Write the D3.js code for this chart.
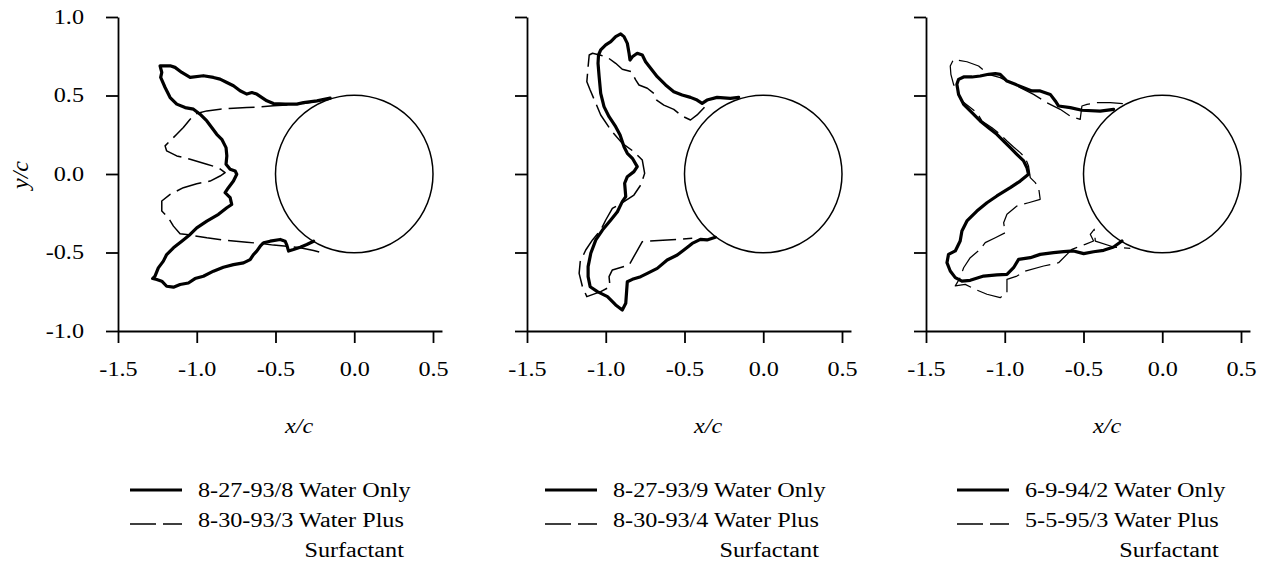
<!DOCTYPE html>
<html>
<head>
<meta charset="utf-8">
<script src="https://cdn.jsdelivr.net/npm/d3@7"></script>
<style>
  body { margin: 0; background: #fff; }
  text { font-family: "Liberation Serif", "Times New Roman", serif; fill: #000; }
</style>
</head>
<body>
<svg id="chart" width="1264" height="567"></svg>
<script>
// Axis ticks (x/c and y/c, chord-normalised)
const xTicks = [-1.5, -1.0, -0.5, 0.0, 0.5];
const yTicks = [-1.0, -0.5, 0.0, 0.5, 1.0];
const cylinderRadius = 0.5;

// Ice shape tracings, [x/c, y/c]
const waterOnly_82793_8 = [
  [-0.153,0.483],[-0.237,0.466],[-0.322,0.455],[-0.364,0.445],[-0.439,0.445],[-0.513,0.449],[-0.555,0.466],
  [-0.619,0.509],[-0.650,0.519],[-0.682,0.509],[-0.725,0.530],[-0.767,0.562],[-0.809,0.583],[-0.852,0.604],
  [-0.894,0.615],[-0.958,0.626],[-1.042,0.615],[-1.095,0.647],[-1.138,0.679],[-1.169,0.689],[-1.201,0.689],
  [-1.233,0.689],[-1.222,0.647],[-1.229,0.615],[-1.201,0.551],[-1.169,0.487],[-1.127,0.445],[-1.074,0.423],
  [-1.021,0.413],[-0.979,0.381],[-0.936,0.338],[-0.905,0.296],[-0.873,0.253],[-0.841,0.221],[-0.814,0.168],
  [-0.809,0.115],[-0.814,0.062],[-0.788,0.030],[-0.756,0.019],[-0.746,-0.002],[-0.767,-0.045],[-0.799,-0.087],
  [-0.820,-0.119],[-0.788,-0.151],[-0.778,-0.194],[-0.809,-0.215],[-0.862,-0.257],[-0.936,-0.300],[-1.000,-0.343],
  [-1.042,-0.385],[-1.095,-0.428],[-1.148,-0.470],[-1.191,-0.513],[-1.212,-0.555],[-1.244,-0.598],[-1.265,-0.651],
  [-1.280,-0.666],[-1.254,-0.672],[-1.222,-0.683],[-1.191,-0.715],[-1.148,-0.721],[-1.106,-0.704],[-1.053,-0.694],
  [-1.011,-0.666],[-0.958,-0.651],[-0.894,-0.619],[-0.831,-0.594],[-0.767,-0.577],[-0.703,-0.566],[-0.661,-0.545],
  [-0.640,-0.513],[-0.619,-0.491],[-0.597,-0.460],[-0.576,-0.438],[-0.534,-0.428],[-0.470,-0.417],[-0.439,-0.428],
  [-0.428,-0.453],[-0.417,-0.491],[-0.386,-0.481],[-0.343,-0.466],[-0.301,-0.449],[-0.258,-0.428]
];
const surfactant_83093_3 = [
  [-0.216,0.466],[-0.322,0.449],[-0.428,0.440],[-0.513,0.434],[-0.597,0.428],[-0.682,0.423],[-0.767,0.419],
  [-0.852,0.413],[-0.936,0.402],[-1.000,0.385],[-1.042,0.349],[-1.085,0.296],[-1.127,0.253],[-1.159,0.221],
  [-1.201,0.179],[-1.191,0.147],[-1.127,0.115],[-1.042,0.094],[-0.936,0.062],[-0.862,0.040],[-0.820,0.009],
  [-0.852,-0.013],[-0.915,-0.045],[-1.000,-0.062],[-1.085,-0.087],[-1.169,-0.130],[-1.222,-0.172],[-1.222,-0.236],
  [-1.180,-0.279],[-1.148,-0.332],[-1.106,-0.381],[-1.042,-0.389],[-0.936,-0.406],[-0.809,-0.423],[-0.682,-0.434],
  [-0.576,-0.445],[-0.513,-0.453],[-0.428,-0.460],[-0.343,-0.470],[-0.258,-0.487],[-0.206,-0.502]
];
const waterOnly_82793_9 = [
  [-0.156,0.488],[-0.209,0.482],[-0.293,0.488],[-0.357,0.471],[-0.388,0.450],[-0.420,0.471],[-0.462,0.488],
  [-0.515,0.503],[-0.568,0.524],[-0.620,0.567],[-0.673,0.620],[-0.715,0.673],[-0.747,0.715],[-0.768,0.758],
  [-0.800,0.769],[-0.831,0.747],[-0.846,0.726],[-0.852,0.769],[-0.863,0.832],[-0.884,0.875],[-0.905,0.892],
  [-0.937,0.875],[-0.968,0.843],[-1.000,0.822],[-1.032,0.790],[-1.046,0.758],[-1.049,0.705],[-1.042,0.620],
  [-1.032,0.514],[-1.011,0.429],[-0.979,0.365],[-0.937,0.301],[-0.909,0.248],[-0.884,0.174],[-0.863,0.132],
  [-0.831,0.100],[-0.800,0.047],[-0.821,0.015],[-0.863,-0.017],[-0.880,-0.059],[-0.873,-0.144],[-0.895,-0.176],
  [-0.926,-0.240],[-0.968,-0.293],[-1.021,-0.357],[-1.063,-0.420],[-1.095,-0.505],[-1.112,-0.590],[-1.112,-0.654],
  [-1.099,-0.718],[-1.053,-0.749],[-0.989,-0.781],[-0.937,-0.834],[-0.895,-0.866],[-0.873,-0.824],[-0.867,-0.739],
  [-0.863,-0.686],[-0.831,-0.671],[-0.778,-0.654],[-0.736,-0.633],[-0.673,-0.601],[-0.610,-0.548],[-0.546,-0.516],
  [-0.504,-0.484],[-0.451,-0.442],[-0.399,-0.416],[-0.357,-0.420],[-0.304,-0.403]
];
const surfactant_83093_4 = [
  [-0.373,0.425],[-0.420,0.376],[-0.462,0.344],[-0.515,0.369],[-0.568,0.412],[-0.631,0.439],[-0.677,0.471],
  [-0.690,0.510],[-0.736,0.546],[-0.789,0.567],[-0.810,0.599],[-0.838,0.652],[-0.895,0.667],[-0.937,0.705],
  [-0.989,0.743],[-1.032,0.756],[-1.084,0.769],[-1.105,0.758],[-1.112,0.684],[-1.120,0.588],[-1.099,0.535],
  [-1.063,0.450],[-1.032,0.376],[-0.968,0.280],[-0.895,0.195],[-0.821,0.142],[-0.768,0.089],[-0.753,0.004],
  [-0.778,-0.070],[-0.821,-0.134],[-0.884,-0.176],[-0.958,-0.219],[-1.000,-0.293],[-1.032,-0.357],[-1.084,-0.420],
  [-1.127,-0.484],[-1.162,-0.558],[-1.169,-0.633],[-1.148,-0.718],[-1.120,-0.781],[-1.032,-0.749],[-0.973,-0.718],
  [-0.979,-0.654],[-0.958,-0.611],[-0.852,-0.580],[-0.810,-0.505],[-0.768,-0.431],[-0.610,-0.420],[-0.451,-0.410]
];
const waterOnly_6994_2 = [
  [-0.309,0.412],[-0.394,0.401],[-0.510,0.406],[-0.584,0.423],[-0.658,0.433],[-0.679,0.465],[-0.711,0.507],
  [-0.775,0.529],[-0.828,0.529],[-0.880,0.550],[-0.933,0.571],[-0.986,0.592],[-1.029,0.635],[-1.060,0.639],
  [-1.103,0.635],[-1.156,0.624],[-1.208,0.618],[-1.261,0.618],[-1.293,0.603],[-1.304,0.571],[-1.293,0.507],
  [-1.261,0.444],[-1.208,0.391],[-1.156,0.338],[-1.103,0.295],[-1.050,0.253],[-1.007,0.210],[-0.965,0.168],
  [-0.923,0.125],[-0.880,0.083],[-0.859,0.040],[-0.849,-0.002],[-0.902,-0.045],[-0.965,-0.087],[-1.050,-0.140],
  [-1.113,-0.183],[-1.177,-0.236],[-1.240,-0.299],[-1.272,-0.363],[-1.283,-0.427],[-1.314,-0.490],[-1.357,-0.512],
  [-1.367,-0.565],[-1.346,-0.618],[-1.314,-0.660],[-1.272,-0.682],[-1.219,-0.677],[-1.134,-0.650],[-1.050,-0.643],
  [-0.986,-0.639],[-0.944,-0.597],[-0.912,-0.544],[-0.838,-0.533],[-0.775,-0.512],[-0.690,-0.501],[-0.626,-0.495],
  [-0.563,-0.490],[-0.499,-0.507],[-0.436,-0.495],[-0.372,-0.486],[-0.309,-0.465],[-0.256,-0.427]
];
const surfactant_5595_3 = [
  [-0.250,0.448],[-0.330,0.454],[-0.415,0.454],[-0.478,0.444],[-0.510,0.433],[-0.521,0.348],[-0.584,0.369],
  [-0.648,0.412],[-0.732,0.454],[-0.817,0.507],[-0.902,0.550],[-1.029,0.614],[-1.103,0.635],[-1.166,0.688],
  [-1.240,0.715],[-1.325,0.730],[-1.346,0.688],[-1.342,0.635],[-1.325,0.571],[-1.272,0.465],[-1.219,0.423],
  [-1.177,0.391],[-1.145,0.338],[-1.081,0.295],[-1.029,0.253],[-0.986,0.210],[-0.944,0.172],[-0.902,0.136],
  [-0.870,0.104],[-0.849,0.051],[-0.838,-0.023],[-0.806,-0.055],[-0.785,-0.087],[-0.775,-0.161],[-0.849,-0.183],
  [-0.923,-0.204],[-0.986,-0.257],[-1.007,-0.310],[-0.997,-0.374],[-1.060,-0.406],[-1.124,-0.437],[-1.156,-0.480],
  [-1.219,-0.533],[-1.261,-0.597],[-1.283,-0.660],[-1.314,-0.713],[-1.251,-0.703],[-1.187,-0.735],[-1.113,-0.766],
  [-1.029,-0.788],[-0.986,-0.756],[-0.986,-0.671],[-0.923,-0.650],[-0.870,-0.618],[-0.753,-0.586],[-0.658,-0.565],
  [-0.605,-0.512],[-0.574,-0.480],[-0.489,-0.448],[-0.436,-0.427],[-0.457,-0.384],[-0.432,-0.352],[-0.425,-0.427],
  [-0.309,-0.465],[-0.203,-0.473]
];

// Legend text
const waterOnlyLabels = ["8-27-93/8 Water Only", "8-27-93/9 Water Only", "6-9-94/2 Water Only"];
const surfactantLabels = ["8-30-93/3 Water Plus", "8-30-93/4 Water Plus", "5-5-95/3 Water Plus"];
const surfactantLabelTail = "Surfactant";

// Layout
const panelLeft = [118, 527, 926];
const legendLeft = [130, 545, 957];
const dashedWidth = [1.5, 1.5, 1.25];
const plotTop = 17, plotBottom = 331;
const unitPx = 157.5;
const fontSize = 20;
const stretch = 1.21;   // wide-set serif lettering

const panels = [
  { solid: waterOnly_82793_8, dashed: surfactant_83093_3 },
  { solid: waterOnly_82793_9, dashed: surfactant_83093_4 },
  { solid: waterOnly_6994_2,  dashed: surfactant_5595_3 }
];

const svg = d3.select("#chart");
const fmt = d => d.toFixed(1);

// text placed at (x, y), drawn horizontally widened
function wideText(parent, x, y, str, anchor, italic) {
  const t = parent.append("g").attr("transform", `translate(${x},${y}) scale(${stretch},1)`)
    .append("text").attr("font-size", fontSize).attr("text-anchor", anchor || "start").text(str);
  if (italic) t.attr("font-style", "italic");
  return t;
}

panels.forEach((p, i) => {
  const x0 = panelLeft[i];
  const x = d3.scaleLinear().domain([-1.5, 0.557]).range([x0, x0 + 2.057 * unitPx]);
  const y = d3.scaleLinear().domain([-1, 1]).range([plotBottom, plotTop]);
  const g = svg.append("g");

  // axes
  const xAxis = d3.axisBottom(x).tickValues(xTicks).tickSize(12).tickSizeOuter(0)
    .tickPadding(19).tickFormat(fmt);
  const yAxis = d3.axisLeft(y).tickValues(yTicks).tickSize(12).tickSizeOuter(0)
    .tickPadding(22).tickFormat(i === 0 ? fmt : () => "");
  const ya = g.append("g").attr("transform", `translate(${x0},0)`).call(yAxis);
  const xa = g.append("g").attr("transform", `translate(0,${plotBottom})`).call(xAxis);
  [xa, ya].forEach(a => {
    a.selectAll("path,line").attr("stroke", "#000").attr("stroke-width", 1.8);
    a.selectAll("text").attr("font-size", fontSize).attr("font-family", "Liberation Serif")
      .attr("fill", "#000").attr("transform", `scale(${stretch},1)`);
  });
  ya.selectAll("text").attr("x", -(12 + 22) / stretch);

  // cylinder
  g.append("circle")
    .attr("cx", x(0)).attr("cy", y(0))
    .attr("r", x(cylinderRadius) - x(0))
    .attr("fill", "none").attr("stroke", "#000").attr("stroke-width", 1.5);

  const line = d3.line().x(d => x(d[0])).y(d => y(d[1]));

  g.append("path").datum(p.dashed).attr("d", line)
    .attr("fill", "none").attr("stroke", "#000").attr("stroke-width", dashedWidth[i])
    .attr("stroke-dasharray", "26,7").attr("stroke-linejoin", "round");
  g.append("path").datum(p.solid).attr("d", line)
    .attr("fill", "none").attr("stroke", "#000").attr("stroke-width", 3.2)
    .attr("stroke-linejoin", "round").attr("stroke-linecap", "round");

  // x title
  wideText(g, x(-0.35), 433, "x/c", "middle", true);

  // legend
  const lx = legendLeft[i];
  const lg = g.append("g");
  lg.append("line").attr("x1", lx).attr("x2", lx + 52).attr("y1", 490).attr("y2", 490)
    .attr("stroke", "#000").attr("stroke-width", 3);
  lg.append("line").attr("x1", lx).attr("x2", lx + 52).attr("y1", 524).attr("y2", 524)
    .attr("stroke", "#000").attr("stroke-width", 1.5).attr("stroke-dasharray", "26,7");
  const tx = lx + 68;
  wideText(lg, tx, 497, waterOnlyLabels[i]);
  const t2 = wideText(lg, tx, 527, surfactantLabels[i]);
  const endX = tx + stretch * t2.node().getComputedTextLength();
  wideText(lg, endX, 557, surfactantLabelTail, "end");
});

// y title
svg.append("text").attr("transform", "translate(28,175) rotate(-90)")
  .attr("text-anchor", "middle").attr("font-size", 24).attr("font-style", "italic")
  .text("y/c");
</script>
</body>
</html>
